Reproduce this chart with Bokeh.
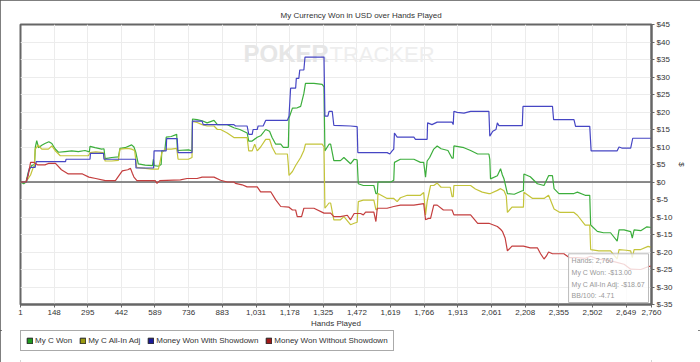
from bokeh.plotting import figure
from bokeh.layouts import column
from bokeh.models import (Range1d, FixedTicker, NumeralTickFormatter, Span, Legend,
                          LegendItem, Label)
from bokeh.embed import file_html
from bokeh.resources import INLINE

title_text = "My Currency Won in USD over Hands Played"
x_label = "Hands Played"
y_label = "$"

x_ticks = [1, 148, 295, 442, 589, 736, 883, 1031, 1178, 1325, 1472, 1619, 1766,
           1913, 2061, 2208, 2355, 2502, 2649, 2760]
y_ticks = [-35, -30, -25, -20, -15, -10, -5, 0, 5, 10, 15, 20, 25, 30, 35, 40, 45]
y_tick_labels = ["$-35", "$-30", "$-25", "$-20", "$-15", "$-10", "$-5", "$0", "$5",
                 "$10", "$15", "$20", "$25", "$30", "$35", "$40", "$45"]

series_names = ["My C Won", "My C All-In Adj", "Money Won With Showdown",
                "Money Won Without Showdown"]

green_hands = [1, 15, 25, 36, 50, 62, 66, 72, 80, 94, 108, 125, 138, 152, 167, 196, 225, 254, 283, 302,
               305, 327, 356, 366, 371, 400, 429, 436, 458, 487, 497, 505, 516, 546, 578, 582, 586, 604,
               616, 619, 632, 638, 660, 684, 687, 735,
               751, 753, 773, 795, 817, 847, 862, 905, 934, 960, 992, 999, 1014, 1036, 1051, 1073, 1090,
               1101, 1117, 1139, 1150, 1172, 1175, 1190, 1211, 1226, 1240, 1247, 1284, 1320, 1328, 1332,
               1350, 1357, 1371, 1400, 1415, 1444,
               1460, 1473, 1478, 1500, 1546, 1555, 1561, 1564, 1620, 1633, 1636, 1662, 1721, 1750, 1764,
               1772, 1779, 1790, 1808, 1823, 1840, 1870, 1888, 1893, 1896, 1940, 1969, 2000, 2049, 2053,
               2056, 2086, 2100, 2108, 2115, 2130, 2160, 2195, 2200, 2202, 2230, 2261, 2290, 2310, 2327,
               2334, 2355, 2421, 2436, 2470, 2490, 2494, 2523, 2550, 2581, 2610, 2618, 2640, 2669, 2676,
               2684, 2713, 2740, 2760]
green_won = [0, -0.5, 0, 3, 4.7, 5, 10, 11.8, 9.8, 10.5, 11, 11.5, 11, 9.5, 8.5, 8.7, 8.9, 8.7, 9, 8.6,
             10.2, 9.8, 9.4, 9.5, 6.7, 7, 7.2, 9.6, 9.8, 10.6, 10, 8.5, 5.2, 4.8, 4.7, 6.5, 4.7, 4.5,
             5, 8.9, 9, 12.8, 13, 13.6, 9, 9.2,
             8.9, 18, 17.8, 17.5, 16.9, 17.6, 16.4, 16.4, 15.5, 15, 14, 11.7, 11.7, 12.8, 13.2, 15, 14.5,
             12.7, 10.8, 10.8, 9.9, 9.9, 18.3, 21.1, 21.2, 21.6, 25.3, 28.2, 28.2, 27.9, 27.2, 8.9,
             10.8, 10.8, 6.1, 6.1, 7, 5.2,
             6.5, 6.3, -0.5, -1, -1, -3.3, -3.3, 0, 0, 0.5, 5.6, 6.5, 6.5, 5.6, 5.6,
             1.4, 6, 7, 9.4, 10.3, 9.5, 9, 6.8, 6.8, 10.3, 9.8, 9, 8, 8, 6.5,
             0.9, 1.8, 3.8, 2, 0.9, -3.3, -3.5, -2.5, -2.5, 2.3, 1.5, -0.5, -1, 1.8, 1.8,
             -1.9, -3.3, -3.3, -2.9, -3.8, -3.8, -12.3, -14.1, -14.5, -14.5, -16.9, -13.7, -13.7, -14.2, -16,
             -13.7, -13.9, -12.8, -13.0]

yellow_hands = [1, 25, 45, 57, 62, 65, 79, 94, 123, 138, 152, 175, 200, 260, 298, 305, 330, 363, 371, 400,
                429, 436, 470, 487, 500, 509, 546, 575, 604, 612, 619, 633, 660, 684, 690, 735,
                751, 753, 773, 795, 817, 847, 862, 876, 905, 934, 992, 999, 1014, 1025, 1036, 1051, 1073,
                1090, 1101, 1117, 1168, 1172, 1175, 1190, 1204, 1226, 1240, 1247, 1320, 1328, 1332, 1350,
                1357, 1371, 1400, 1415, 1444,
                1460, 1473, 1478, 1500, 1546, 1555, 1561, 1564, 1604, 1633, 1648, 1662, 1692, 1750, 1764,
                1772, 1779, 1794, 1808, 1823, 1840, 1880, 1888, 1893, 1896, 1969, 1990, 2020, 2049, 2056,
                2086, 2100, 2115, 2125, 2130, 2150, 2195, 2200, 2202, 2240, 2290, 2310, 2334, 2360, 2421,
                2436, 2470, 2490, 2494, 2530, 2581, 2610, 2618, 2650, 2669, 2676, 2684, 2713, 2745, 2760]
yellow_adj = [0, 0, 2, 4.2, 4.5, 9.4, 10.5, 9.4, 9.4, 10.3, 9, 7.5, 7.5, 7.5, 7.5, 8.4, 8.6, 8.4, 6, 6,
              6.2, 9.4, 9.6, 9.4, 9, 4.2, 3.9, 3.7, 3.7, 6, 8.4, 9.4, 9.4, 9.6, 6.5, 6.5,
              7, 17.3, 17, 16.4, 16, 16, 15, 15, 14, 12.7, 12.7, 8.9, 8.9, 10.8, 8.9, 10, 12.2,
              12.2, 10, 8, 8, 5, 1.9, 3, 4.7, 7, 9, 10.8, 10.8, 10, -7.5, -6,
              -6, -10.8, -10.8, -9.9, -12.2,
              -11.8, -11.5, -5.6, -5.2, -5.2, -7.9, -7.9, -3.3, -4.7, -4.7, -5.6, -4.5, -3.8, -3.8, -3.0,
              -9.4, -5.6, -1.0, -1.0, -0.3, -1.5, -1.5, -4.2, -4.2, -1.0, -1.0, -2.0, -2.9, -3.3, -3.3,
              -2.4, -1.9, -2.5, -4.0, -8.7, -7.2, -7.2, -7.2, -2.9, -4.7, -4.7, -3.8, -7.7, -8.7, -8.7,
              -9.5, -12.3, -12.3, -19.3, -19.7, -19.7, -22.0, -19.3, -19.5, -19.7, -21.6, -19.3, -19.3, -18.4,
              -18.67]

blue_hands = [1, 27, 40, 50, 65, 70, 198, 200, 305, 307, 364, 366, 504, 506, 583, 585, 638, 640, 686, 690,
              751, 753, 795, 800, 934, 941, 992, 999, 1014, 1018, 1036, 1040, 1062, 1073, 1168, 1175,
              1182, 1204, 1207, 1218, 1222, 1240, 1245, 1328, 1332, 1345, 1350, 1364, 1371, 1444,
              1473, 1476, 1604, 1616, 1625, 1633, 1636, 1648, 1721, 1728, 1779, 1781, 1800, 1823, 1888,
              1893, 1896, 1910, 1940, 1969, 2049, 2053, 2066, 2080, 2086, 2093, 2195, 2198, 2327, 2332,
              2421, 2428, 2490, 2496, 2610, 2618, 2630, 2669, 2678, 2760]
blue_showdown = [0, 0, 4, 4.2, 4.2, 5.8, 5.8, 6.5, 6.5, 8.2, 8.2, 6.5, 6.5, 4.0, 4.0, 8.9, 8.9, 12.4, 12.4, 8.4,
                 8.4, 17.4, 17.4, 16.4, 16.4, 16, 16, 13.6, 13.6, 15, 15, 16, 16, 17.6, 17.6, 18.8,
                 26.8, 26.8, 29.6, 29.6, 32, 32, 35.7, 35.7, 18.8, 18.8, 20.2, 20.2, 16.2, 16,
                 15.8, 8.4, 8.4, 8.0, 8.8, 9.4, 14, 12.8, 12.8, 12.2, 12.2, 16.9, 16.4, 17.1, 17.1,
                 16.4, 20.2, 19.9, 19.7, 20.2, 20.2, 13.1, 14.5, 15, 16.9, 16.1, 16.1, 21.6, 21.6, 17.8,
                 17.8, 15.9, 15.9, 8.9, 8.9, 10, 9.7, 9.7, 12.5, 12.5]

red_hands = [1, 25, 35, 45, 60, 75, 108, 123, 154, 180, 210, 272, 300, 330, 372, 416, 446, 470, 482, 490,
             497, 510, 590, 598, 610, 700,
             729, 773, 795, 847, 876, 905, 934, 941, 970, 992, 1036, 1051, 1095, 1117, 1139, 1175, 1190,
             1204, 1211, 1230, 1240, 1284, 1328, 1357, 1371, 1400, 1430, 1444,
             1460, 1488, 1500, 1510, 1546, 1555, 1561, 1604, 1633, 1662, 1721, 1764, 1772, 1785, 1794,
             1808, 1823, 1850, 1888, 1896, 1969, 2000, 2049, 2086, 2100, 2108, 2120, 2130, 2150, 2200,
             2230, 2261, 2275, 2290, 2300, 2310, 2327, 2377, 2400, 2436, 2470, 2494, 2523, 2560, 2600,
             2640, 2669, 2713, 2745, 2760]
red_no_showdown = [0, 0, 2, 5.6, 5.6, 4.9, 4.9, 5.3, 5.3, 3.5, 2.3, 2.3, 1.4, 1.0, 0.4, 0.4, 3.2, 3.5, 3.9, 2.5,
                   1.4, 0.4, 0.4, -0.4, 0.4, 0.6,
                   1.0, 1.0, 1.4, 1.4, 0.5, 0, 0, -0.4, -0.8, -1.4, -1.4, -2.8, -2.8, -5.1, -7, -7.2, -8,
                   -8, -9.9, -9.9, -7.5, -7.5, -8.9, -8.9, -9.9, -9.9, -9.5, -10.8,
                   -9, -9, -9.4, -8.6, -8.6, -11.3, -7.5, -7.5, -7.0, -6.6, -6.6, -6.2, -10.8, -10.4, -10.4,
                   -6.6, -6.6, -8, -8, -9.4, -9.4, -11.8, -11.8, -12.7, -13.5, -14.1, -16, -19.7, -18.3, -18.3,
                   -18.8, -18.8, -20.5, -22, -21.2, -20, -20.5, -20.5, -21.6, -21.6, -21.8, -21.2, -22, -22.3, -22.8,
                   -23.5, -24.9, -25, -24.2, -24]

bb_per_100 = -4.71

line_colors = ["#3cae3c", "#c4c43a", "#4646c4", "#c43e3e"]
legend_colors = ["#1f9a1f", "#9a9a10", "#1a1a9a", "#a01818"]
FONT = "Liberation Sans"
NAN = float("nan")

# ---------------- main chart ----------------
p = figure(width=700, height=330, output_backend="svg", toolbar_location=None,
           x_range=Range1d(1, 2760), y_range=Range1d(-35, 45),
           y_axis_location="right",
           min_border_left=20, min_border_right=49, min_border_top=24, min_border_bottom=23)
p.background_fill_color = "white"
p.border_fill_color = "white"
p.outline_line_color = "#666666"
p.outline_line_width = 2

p.title.text = title_text
p.title.align = "left"
p.title.offset = 260
p.title.text_font = FONT
p.title.text_font_size = "8px"
p.title.text_font_style = "normal"
p.title.text_color = "#333333"
p.title.standoff = 10

xa = p.xaxis[0]
xa.ticker = FixedTicker(ticks=x_ticks)
xa.formatter = NumeralTickFormatter(format="0,0")
xa.axis_label = x_label
ya = p.yaxis[0]
ya.ticker = FixedTicker(ticks=y_ticks)
ya.major_label_overrides = {t: s for t, s in zip(y_ticks, y_tick_labels)}
ya.axis_label = y_label
for ax in (xa, ya):
    ax.axis_line_color = "#666666"
    ax.axis_line_width = 2
    ax.major_tick_line_color = "#666666"
    ax.major_tick_out = 3
    ax.major_tick_in = 0
    ax.minor_tick_out = 0
    ax.minor_tick_in = 0
    ax.major_label_standoff = 2
    ax.axis_label_standoff = 1
    ax.major_label_text_font = FONT
    ax.major_label_text_font_size = "8px"
    ax.major_label_text_color = "#333333"
    ax.axis_label_text_font = FONT
    ax.axis_label_text_font_size = "8px"
    ax.axis_label_text_font_style = "normal"
    ax.axis_label_text_color = "#333333"

p.xgrid.grid_line_color = "#ececec"
p.ygrid.grid_line_color = "#ececec"

# watermark
p.add_layout(Label(x=976, y=33, text="POKER", text_font=FONT, text_font_size="24px",
                   text_font_style="bold", text_color="#e6e6e6", level="underlay"))
p.add_layout(Label(x=1352, y=33, text="TRACKER", text_font=FONT, text_font_size="22px",
                   text_color="#eeeeee", level="underlay"))

p.add_layout(Span(location=0, dimension="width", line_color="#666666", line_width=1.5,
                  level="underlay"))

series = [(green_hands, green_won), (yellow_hands, yellow_adj),
          (blue_hands, blue_showdown), (red_hands, red_no_showdown)]
for (xs, ys), c in zip(series, line_colors):
    p.line(xs, ys, line_color=c, line_width=1.2)

tip_text = "\n".join([
    f"Hands: {green_hands[-1]:,}",
    f"My C Won: -${abs(green_won[-1]):.2f}",
    f"My C All-In Adj: -${abs(yellow_adj[-1]):.2f}",
    f"BB/100: {bb_per_100:.2f}",
])
p.add_layout(Label(x=green_hands[-1], y=y_ticks[0], text=tip_text, anchor="bottom_right",
                   x_offset=-3, y_offset=2, text_font=FONT, text_font_size="7px",
                   text_color="#999999", text_line_height=1.7,
                   background_fill_color="white", background_fill_alpha=0.8,
                   border_line_color="#bbbbbb", padding=3))

# ---------------- legend strip ----------------
lg = figure(width=700, height=32, output_backend="svg", toolbar_location=None,
            x_range=Range1d(0, 1), y_range=Range1d(0, 1),
            min_border_left=0, min_border_right=0, min_border_top=0, min_border_bottom=0)
lg.axis.visible = False
lg.grid.visible = False
lg.outline_line_color = None
lg.background_fill_color = "white"
lg.border_fill_color = "white"

items = []
for name, c in zip(series_names, legend_colors):
    # legend swatch only: no visible mark in the strip
    r = lg.quad(left=[NAN], right=[NAN], top=[NAN], bottom=[NAN], fill_color=c,
                line_color="#222222", line_width=1)
    items.append(LegendItem(label=name, renderers=[r]))

legend = Legend(items=items, orientation="horizontal", location=(0, 11),
                glyph_width=7, glyph_height=7, label_height=9, label_standoff=2,
                spacing=7, padding=5, margin=0,
                border_line_color="#555555", border_line_width=1.5,
                background_fill_color="white", background_fill_alpha=1,
                label_text_font=FONT, label_text_font_size="8px", label_text_color="#333333")
lg.add_layout(legend)

layout = column(p, lg, spacing=0)
layout.styles = {"outline": "2px solid #555555", "outline-offset": "-2px"}

open("out.html", "w").write(file_html(layout, INLINE))
